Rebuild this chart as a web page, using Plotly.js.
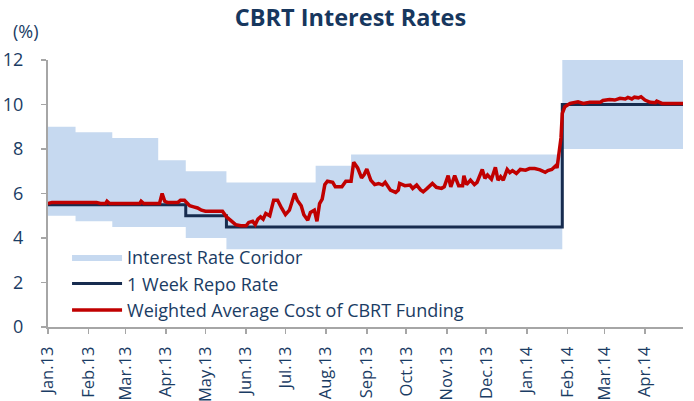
<!DOCTYPE html>
<html>
<head>
<meta charset="utf-8">
<script src="https://cdn.plot.ly/plotly-3.0.1.min.js"></script>
<style>html,body{margin:0;padding:0;background:#fff;}#chart{width:694px;height:401px;}</style>
</head>
<body>
<div id="chart"></div>
<script>
// Interest rate corridor (step changes)
const corridorDates = ['2013-01-01','2013-01-22','2013-02-19','2013-03-26','2013-04-16','2013-05-17','2013-07-24','2013-08-20','2014-01-28','2014-04-30'];
const corridorUpper = [9, 8.75, 8.5, 7.5, 7, 6.5, 7.25, 7.75, 12, 12];
const corridorLower = [5, 4.75, 4.5, 4.5, 4, 3.5, 3.5, 3.5, 8, 8];

// 1 week repo rate (step changes)
const repoDates = ['2013-01-01','2013-04-16','2013-05-17','2014-01-28','2014-04-30'];
const repoRate = [5.5, 5, 4.5, 10, 10];

// Weighted average cost of CBRT funding
const wacfDates = ['2013-01-01','2013-01-04','2013-02-07','2013-02-10','2013-02-14','2013-02-15','2013-02-17','2013-03-12','2013-03-13','2013-03-15',
'2013-03-27','2013-03-29','2013-03-31','2013-04-02','2013-04-10','2013-04-12','2013-04-15','2013-04-17','2013-04-19','2013-04-22',
'2013-04-25','2013-04-28','2013-05-01','2013-05-14','2013-05-17','2013-05-20','2013-05-24','2013-05-28','2013-06-01','2013-06-03',
'2013-06-06','2013-06-08','2013-06-10','2013-06-12','2013-06-14','2013-06-16','2013-06-19','2013-06-22','2013-06-25','2013-06-28',
'2013-07-01','2013-07-04','2013-07-08','2013-07-10','2013-07-13','2013-07-15','2013-07-18','2013-07-20','2013-07-23','2013-07-25',
'2013-07-27','2013-07-29','2013-07-31','2013-08-02','2013-08-06','2013-08-08','2013-08-13','2013-08-16','2013-08-20','2013-08-22',
'2013-08-25','2013-08-28','2013-08-30','2013-09-01','2013-09-04','2013-09-07','2013-09-10','2013-09-13','2013-09-15','2013-09-19',
'2013-09-23','2013-09-25','2013-09-26','2013-09-30','2013-10-04','2013-10-06','2013-10-09','2013-10-12','2013-10-14','2013-10-17',
'2013-10-21','2013-10-24','2013-10-28','2013-10-30','2013-11-02','2013-11-04','2013-11-07','2013-11-10','2013-11-13','2013-11-14',
'2013-11-16','2013-11-19','2013-11-22','2013-11-24','2013-11-28','2013-11-30','2013-12-02','2013-12-05','2013-12-08','2013-12-10',
'2013-12-12','2013-12-14','2013-12-17','2013-12-19','2013-12-21','2013-12-24','2013-12-27','2013-12-31','2014-01-03','2014-01-07',
'2014-01-11','2014-01-15','2014-01-17','2014-01-20','2014-01-23','2014-01-24','2014-01-25','2014-01-27','2014-01-28','2014-01-30',
'2014-02-03','2014-02-09','2014-02-13','2014-02-18','2014-02-26','2014-02-28','2014-03-05','2014-03-09','2014-03-13','2014-03-17',
'2014-03-19','2014-03-22','2014-03-24','2014-03-27','2014-03-29','2014-04-01','2014-04-05','2014-04-09','2014-04-10','2014-04-14',
'2014-04-30'];
const wacfValues = [5.55,5.6,5.6,5.55,5.55,5.65,5.55,5.55,5.65,5.55,
5.55,6.0,5.65,5.6,5.6,5.7,5.7,5.55,5.45,5.4,
5.35,5.25,5.2,5.2,4.95,4.8,4.6,4.55,4.55,4.7,
4.75,4.6,4.85,4.95,4.85,5.1,5.0,5.7,5.7,5.35,
5.05,5.25,6.0,5.7,5.45,5.05,4.8,5.15,5.25,4.75,
5.55,5.75,6.4,6.55,6.5,6.3,6.3,6.55,6.55,7.4,
7.15,6.7,6.85,7.1,6.6,6.4,6.45,6.38,6.5,6.15,
6.05,6.15,6.45,6.35,6.38,6.23,6.38,6.16,6.08,6.23,
6.45,6.28,6.23,6.3,6.8,6.3,6.8,6.35,6.35,6.8,
6.4,6.6,6.4,6.5,7.08,6.68,6.83,6.64,7.18,6.6,
6.76,6.6,7.08,6.94,7.03,6.9,7.08,7.05,7.12,7.12,
7.06,6.95,7.03,7.08,7.25,7.15,7.6,8.5,9.6,9.9,
10.05,10.12,10.05,10.1,10.1,10.18,10.22,10.2,10.28,10.25,
10.32,10.25,10.33,10.3,10.35,10.2,10.1,10.08,10.15,10.05,
10.05];

const seriesNames = ['Interest Rate Coridor', '1 Week Repo Rate', 'Weighted Average Cost of CBRT Funding'];

const txt = '#1a3c64';
const fontFam = 'Open Sans, sans-serif';
const axisGray = '#a6a6a6';

const traces = [
  {x: corridorDates, y: corridorLower, type: 'scatter', mode: 'lines', line: {shape: 'hv', width: 0, color: 'rgba(0,0,0,0)'}, showlegend: false, hoverinfo: 'skip'},
  {x: corridorDates, y: corridorUpper, type: 'scatter', mode: 'lines', name: seriesNames[0], line: {shape: 'hv', width: 0, color: 'rgba(0,0,0,0)'}, fill: 'tonexty', fillcolor: '#c6d9f0'},
  {x: repoDates, y: repoRate, type: 'scatter', mode: 'lines', name: seriesNames[1], line: {shape: 'hv', width: 3, color: '#172c4f'}},
  {x: wacfDates, y: wacfValues, type: 'scatter', mode: 'lines', name: seriesNames[2], line: {width: 3.5, color: '#c00000'}}
];

const layout = {
  width: 694, height: 401,
  margin: {l: 48, r: 11, t: 60, b: 74, pad: 0},
  paper_bgcolor: '#ffffff', plot_bgcolor: '#ffffff',
  font: {family: fontFam, color: txt},
  title: {text: 'CBRT Interest Rates', x: 0.505, xref: 'container', xanchor: 'center', y: 0.955, yref: 'container', yanchor: 'middle',
          font: {family: fontFam, size: 23.5, weight: 700, color: '#17375e'}},
  xaxis: {type: 'date', range: ['2013-01-01', '2014-04-30'], tickmode: 'linear', tick0: '2013-01-01', dtick: 'M1',
          tickformat: '%b.%y', tickangle: -90, ticks: 'outside', ticklen: 5, tickwidth: 1.5, tickcolor: axisGray,
          showline: true, linecolor: axisGray, linewidth: 2, showgrid: false, zeroline: false,
          tickfont: {family: fontFam, size: 16.5, color: txt}, ticklabelstandoff: 6},
  yaxis: {range: [0, 12], tick0: 0, dtick: 2, ticks: 'outside', ticklen: 5, tickwidth: 1.5, tickcolor: axisGray,
          showline: true, linecolor: axisGray, linewidth: 2, showgrid: false, zeroline: false,
          tickfont: {family: fontFam, size: 18, color: txt}, ticklabelstandoff: 14},
  legend: {x: 0.03, y: 0.33, xanchor: 'left', yanchor: 'top', bgcolor: 'rgba(0,0,0,0)', borderwidth: 0, traceorder: 'normal',
           font: {family: fontFam, size: 18, color: txt}, itemwidth: 50, tracegroupgap: 0},
  annotations: [{text: '(%)', xref: 'paper', yref: 'paper', x: -0.035, y: 1.11, xanchor: 'center', yanchor: 'middle',
                 showarrow: false, font: {family: fontFam, size: 18, color: txt}}],
  showlegend: true
};

Plotly.newPlot('chart', traces, layout, {staticPlot: true, displayModeBar: false});
</script>
</body>
</html>
